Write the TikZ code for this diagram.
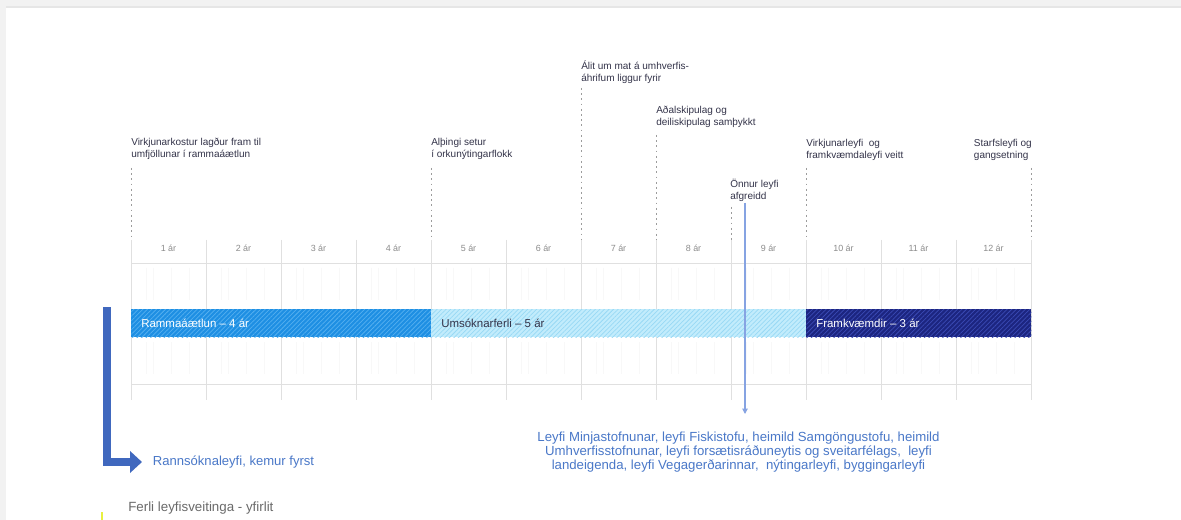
\documentclass[tikz,border=0pt]{standalone}
\usepackage{fontspec}
\setmainfont{Liberation Sans}
\usetikzlibrary{arrows.meta,patterns.meta}

\definecolor{gridgray}{HTML}{E0E0E0}
\definecolor{faintgray}{HTML}{F8F8F8}
\definecolor{dashgray}{HTML}{9C9C9C}
\definecolor{evtext}{HTML}{34344A}
\definecolor{yeartext}{HTML}{8C8C8C}
\definecolor{rammi}{HTML}{1E8FE3}
\definecolor{rammistripe}{HTML}{55B0F0}
\definecolor{umsok}{HTML}{C2ECFC}
\definecolor{umsokstripe}{HTML}{98D9F5}
\definecolor{framk}{HTML}{1C2580}
\definecolor{framkstripe}{HTML}{3A4AB4}
\definecolor{linkblue}{HTML}{4A78C8}
\definecolor{arrowblue}{HTML}{4068BE}
\definecolor{vlineblue}{HTML}{86A3E2}
\definecolor{captiongray}{HTML}{6A6A6A}
\definecolor{bandgray}{HTML}{F2F2F2}
\definecolor{bandline}{HTML}{E6E6E6}
\definecolor{marker}{HTML}{E8F040}

\tikzset{
  evlabel/.style={anchor=north west, align=left, inner sep=0pt,
    font=\fontsize{7.5}{8.7}\selectfont, text=evtext},
  evdash/.style={draw=dashgray, line width=0.5pt, dash pattern=on 1.3pt off 2.6pt},
  yearlabel/.style={inner sep=0pt, font=\fontsize{6.7}{7.5}\selectfont, text=yeartext},
  gridline/.style={draw=gridgray, line width=0.6pt},
  faintline/.style={draw=faintgray, line width=0.6pt},
  barbox/.style={anchor=west, inner sep=0pt, minimum height=21pt},
  barlabel/.style={anchor=west, inner sep=0pt, font=\fontsize{8.6}{9.5}\selectfont},
  lshape/.style={draw=arrowblue, line width=6.5pt, line join=miter, line cap=butt,
    -{Triangle[length=9pt,width=16pt]}},
  thinarrow/.style={draw=vlineblue, line width=0.8pt, -{Triangle[length=4pt,width=4pt]}},
  bluetext/.style={text=linkblue, inner sep=0pt}
}

\begin{document}
\begin{tikzpicture}[x=0.75pt,y=-0.75pt]
\useasboundingbox (0,0) rectangle (1181,520);
% page frame
\fill[white] (0,0) rectangle (1181,520);
\fill[bandgray] (0,0) rectangle (1181,7);
\fill[bandline] (6,6) rectangle (1181,8);
\fill[bandgray] (0,0) rectangle (6,520);

% faint sub lines
\foreach \i in {0,...,11} {
  \foreach \o in {15,22,40,58} {
    \draw[faintline] ({131+75*\i+\o},268) -- ({131+75*\i+\o},300);
    \draw[faintline] ({131+75*\i+\o},342) -- ({131+75*\i+\o},374);
  }
}
% grid
\foreach \i in {0,...,12} \draw[gridline] ({131+75*\i},240) -- ({131+75*\i},400);
\draw[gridline] (131,263) -- (1031,263);
\draw[gridline] (131,384) -- (1031,384);

% year labels
\foreach \i in {1,...,12} \node[yearlabel] (yr\i) at ({131+75*\i-37.5},248) {\i\ ár};

% bars
\node[barbox, minimum width=225pt, fill=rammi,
  postaction={pattern={Lines[angle=45,distance=2.4pt,line width=0.55pt]}, pattern color=rammistripe}]
  (ramma) at (131,323) {};
\node[barbox, minimum width=281.25pt, fill=umsok,
  postaction={pattern={Lines[angle=45,distance=2.4pt,line width=0.55pt]}, pattern color=umsokstripe}]
  (umsok) at (431,323) {};
\node[barbox, minimum width=168.75pt, fill=framk,
  postaction={pattern={Lines[angle=45,distance=2.4pt,line width=0.55pt]}, pattern color=framkstripe}]
  (framk) at (806,323) {};
\node[barlabel, text=white] (rammalbl) at (141,323) {Rammaáætlun – 4 ár};
\node[barlabel, text=evtext] (umsoklbl) at (441,323) {Umsóknarferli – 5 ár};
\node[barlabel, text=white] (framklbl) at (816,323) {Framkvæmdir – 3 ár};

% event labels
\node[evlabel] (ev1) at (131,138) {Virkjunarkostur lagður fram til\\umfjöllunar í rammaáætlun};
\node[evlabel] (ev2) at (431,138) {Alþingi setur\\í orkunýtingarflokk};
\node[evlabel] (ev3) at (581,61) {Álit um mat á umhverfis-\\áhrifum liggur fyrir};
\node[evlabel] (ev4) at (656,106) {Aðalskipulag og\\deiliskipulag samþykkt};
\node[evlabel] (ev5) at (806,139) {Virkjunarleyfi\ \ og\\framkvæmdaleyfi veitt};
\node[evlabel, anchor=north east] (ev6) at (1032,139) {Starfsleyfi og\\gangsetning};
\node[evlabel] (ev7) at (730,179) {Önnur leyfi\\afgreidd};

% event dashes
\draw[evdash] (131,168) -- (131,240);
\draw[evdash] (431,168) -- (431,240);
\draw[evdash] (581,88) -- (581,240);
\draw[evdash] (656,135) -- (656,240);
\draw[evdash] (806,168) -- (806,240);
\draw[evdash] (1031,168) -- (1031,240);
\draw[evdash] (731,207) -- (731,240);

% other permits connector
\node[bluetext, align=center, font=\fontsize{9.9}{10.8}\selectfont] (leyfi) at (738.5,452)
  {Leyfi Minjastofnunar, leyfi Fiskistofu, heimild Samgöngustofu, heimild\\
   Umhverfisstofnunar, leyfi forsætisráðuneytis og sveitarfélags,\ \ leyfi\\
   landeigenda, leyfi Vegagerðarinnar,\ \ nýtingarleyfi, byggingarleyfi};
\coordinate (onnurtail) at (745,203);
\coordinate (leyfitip) at (745,414);
\draw[thinarrow] (onnurtail) -- (leyfitip);

% research permit arrow
\node[bluetext, anchor=west, inner xsep=8pt, font=\fontsize{9.8}{11}\selectfont] (rann) at (142,462)
  {Rannsóknaleyfi, kemur fyrst};
\coordinate (lstart) at (107,307);
\draw[lshape] (lstart) |- (rann.west);

% caption
\node[anchor=west, inner sep=0pt, text=captiongray, font=\fontsize{10}{11}\selectfont] (caption) at (128,508)
  {Ferli leyfisveitinga - yfirlit};
\draw[marker, line width=1pt] (102,512) -- (102,520);
\end{tikzpicture}
\end{document}
